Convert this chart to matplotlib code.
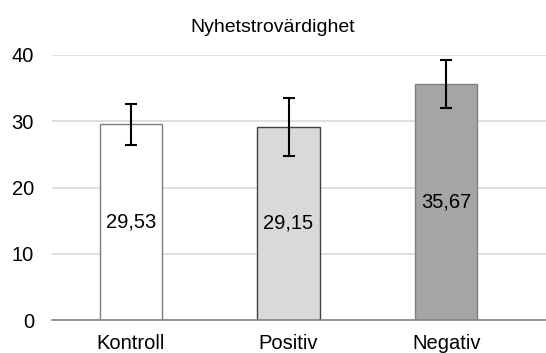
import numpy as np
import matplotlib.pyplot as plt

plt.rcParams['font.family'] = ['Liberation Sans', 'DejaVu Sans']

# data
categories = ["Kontroll", "Positiv", "Negativ"]
means = [29.53, 29.15, 35.67]
errors = [3.1, 4.4, 3.6]
labels = ["29,53", "29,15", "35,67"]
colors = ["#ffffff", "#d9d9d9", "#a5a5a5"]
edges = ["#7f7f7f", "#404040", "#7f7f7f"]

fig = plt.figure(figsize=(5.46, 3.53), dpi=100)
ax = fig.add_axes([52/546, 1-320/353, 1-52/546, (320-55)/353])

x = np.arange(len(categories))
bars = ax.bar(x, means, width=0.395, color=colors, edgecolor=edges, linewidth=1.0, zorder=3)
ax.errorbar(x, means, yerr=errors, fmt="none", ecolor="black", elinewidth=1.5,
            capsize=4.3, capthick=1.5, zorder=4, clip_on=False)

for xi, m, lab in zip(x, means, labels):
    ax.text(xi, m/2, lab, ha="center", va="center", fontsize=14.5, color="black", zorder=5)

ax.set_xlim(-0.5, 2.633)
ax.set_ylim(0, 40)
ax.set_yticks([0, 10, 20, 30, 40])
ax.yaxis.grid(True, color="#d9d9d9", linewidth=1.2, zorder=0)
ax.set_axisbelow(True)
for s in ["top", "right", "left"]:
    ax.spines[s].set_visible(False)
ax.spines["bottom"].set_color("#868686")
ax.spines["bottom"].set_linewidth(1.2)
ax.spines["bottom"].set_zorder(3)
ax.tick_params(axis="y", length=0, pad=13, labelsize=14.5)
ax.tick_params(axis="x", length=0, pad=10, labelsize=14.5)
ax.set_xticks(x)
ax.set_xticklabels(categories)

fig.text(0.5, 1-27/353, "Nyhetstrovärdighet", ha="center", va="center", fontsize=14)

fig.savefig("out.png", dpi=100)
